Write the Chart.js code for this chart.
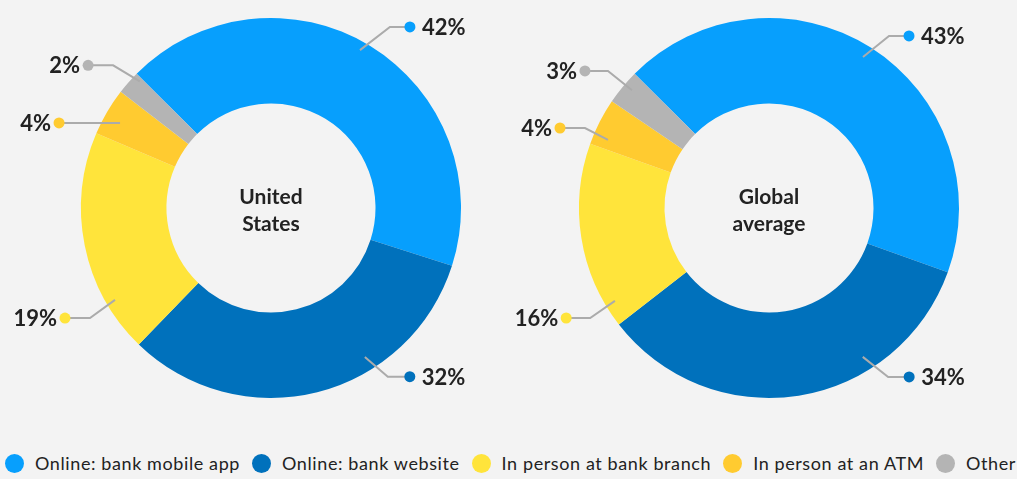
<!DOCTYPE html>
<html>
<head>
<meta charset="utf-8">
<script src="https://cdn.jsdelivr.net/npm/chart.js@4/dist/chart.umd.min.js"></script>
<style>
  html, body { margin: 0; padding: 0; background: #f3f3f3; }
  #Lienzo { position: relative; width: 1017px; height: 479px; overflow: hidden; background: #f3f3f3; font-family: Lato, sans-serif; }
  canvas { position: absolute; top: 0; }
  #GraficoUS { left: 0; }
  #GraficoGlobal { left: 508px; }
  .Leyenda { position: absolute; left: 5px; top: 452px; display: flex; align-items: center; white-space: nowrap; font-size: 18px; letter-spacing: 0.6px; color: #222; }
  .Leyenda span.Punto { display: inline-block; flex: none; width: 19px; height: 19px; border-radius: 50%; margin-right: 11px; }
  .Leyenda span.Texto { margin-right: 12px; }
</style>
</head>
<body>
<div id="Lienzo">
  <canvas id="GraficoUS" width="508" height="430"></canvas>
  <canvas id="GraficoGlobal" width="509" height="430"></canvas>
  <div class="Leyenda" id="Leyenda"></div>
</div>
<script>
const Categorias   = ['Online: bank mobile app', 'Online: bank website', 'In person at bank branch', 'In person at an ATM', 'Other'];
const ValoresUS     = [42, 32, 19, 4, 2];
const ValoresGlobal = [43, 34, 16, 4, 3];
const TituloUS      = ['United', 'States'];
const TituloGlobal  = ['Global', 'average'];
const Colores       = ['#079ffd', '#0071bc', '#ffe43b', '#ffcb30', '#b4b4b4'];

// posicion de las guias (angulo desde arriba, radio relativo, tramo horizontal)
const GuiasUS = [
  { A: 29.4,  S: 0.954, B: 33.3,  E: 1.14,  H: 20 },
  { A: 147.8, S: 0.927, B: 145.3, E: 1.08,  H: 22 },
  { A: 239.5, S: 0.953, B: 238.7, E: 1.115, H: -25 },
  { A: 299.4, S: 0.912, B: 299.4, E: 0.912, H: -61 },
  { A: 314,   S: 0.96,  B: 312.1, E: 1.12,  H: -25 }
];
const GuiasGlobal = [
  { A: 31.9,  S: 0.936, B: 34.9,  E: 1.104, H: 20 },
  { A: 147.8, S: 0.926, B: 144.8, E: 1.088, H: 21 },
  { A: 238.9, S: 0.947, B: 238.4, E: 1.105, H: -24 },
  { A: 292.9, S: 0.92,  B: 293.5, E: 1.056, H: -25 },
  { A: 310.7, S: 0.951, B: 310.4, E: 1.113, H: -23 }
];

const PluginEtiquetas = {
  id: 'Etiquetas',
  afterDatasetsDraw(Chart_, Args, Opc) {
    const Ctx  = Chart_.ctx;
    const Arcos = Chart_.getDatasetMeta(0).data;
    if (!Arcos.length) return;
    const Cx = Arcos[0].x, Cy = Arcos[0].y, R = Arcos[0].outerRadius;
    const Punto = (Ang, Rad) => {
      const T = Ang * Math.PI / 180;
      return [Cx + Rad * R * Math.sin(T), Cy - Rad * R * Math.cos(T)];
    };
    const Valores = Chart_.data.datasets[0].data;

    Ctx.save();
    Opc.Guias.forEach((G, I) => {
      const [X1, Y1] = Punto(G.A, G.S);
      const [X2, Y2] = Punto(G.B, G.E);
      const X3 = X2 + G.H;
      Ctx.strokeStyle = '#ababab';
      Ctx.lineWidth = 2;
      Ctx.beginPath();
      Ctx.moveTo(X1, Y1);
      Ctx.lineTo(X2, Y2);
      Ctx.lineTo(X3, Y2);
      Ctx.stroke();

      Ctx.fillStyle = Colores[I];
      Ctx.beginPath();
      Ctx.arc(X3, Y2, 5.5, 0, Math.PI * 2);
      Ctx.fill();

      Ctx.fillStyle = '#222';
      Ctx.font = 'bold 22px Lato, sans-serif';
      Ctx.textBaseline = 'middle';
      if (G.H > 0) {
        Ctx.textAlign = 'left';
        Ctx.fillText(Valores[I] + '%', X3 + 12, Y2 + 1);
      } else {
        Ctx.textAlign = 'right';
        Ctx.fillText(Valores[I] + '%', X3 - 8, Y2 + 1);
      }
    });

    // titulo del centro
    Ctx.fillStyle = '#222';
    Ctx.font = 'bold 21px Lato, sans-serif';
    Ctx.textAlign = 'center';
    Ctx.textBaseline = 'middle';
    Ctx.fillText(Opc.Titulo[0], Cx, Cy - 11);
    Ctx.fillText(Opc.Titulo[1], Cx, Cy + 16);
    Ctx.restore();
  }
};

function CrearDona(Id, Valores, Titulo, Guias, Relleno) {
  return new Chart(document.getElementById(Id).getContext('2d'), {
    type: 'doughnut',
    data: {
      labels: Categorias,
      datasets: [{
        data: Valores,
        backgroundColor: Colores,
        borderWidth: 0,
        hoverOffset: 0
      }]
    },
    options: {
      responsive: false,
      animation: false,
      cutout: '55%',
      rotation: -45,
      layout: { padding: Relleno },
      plugins: {
        legend: { display: false },
        tooltip: { enabled: false },
        Etiquetas: { Guias: Guias, Titulo: Titulo }
      }
    },
    plugins: [PluginEtiquetas]
  });
}

CrearDona('GraficoUS', ValoresUS, TituloUS, GuiasUS, { left: 81, right: 47, top: 18, bottom: 32 });
CrearDona('GraficoGlobal', ValoresGlobal, TituloGlobal, GuiasGlobal, { left: 71, right: 58, top: 18, bottom: 32 });

// Leyenda
document.getElementById('Leyenda').innerHTML = Categorias.map((C, I) =>
  `<span class="Punto" style="background:${Colores[I]}"></span><span class="Texto">${C}</span>`
).join('');
</script>
</body>
</html>
